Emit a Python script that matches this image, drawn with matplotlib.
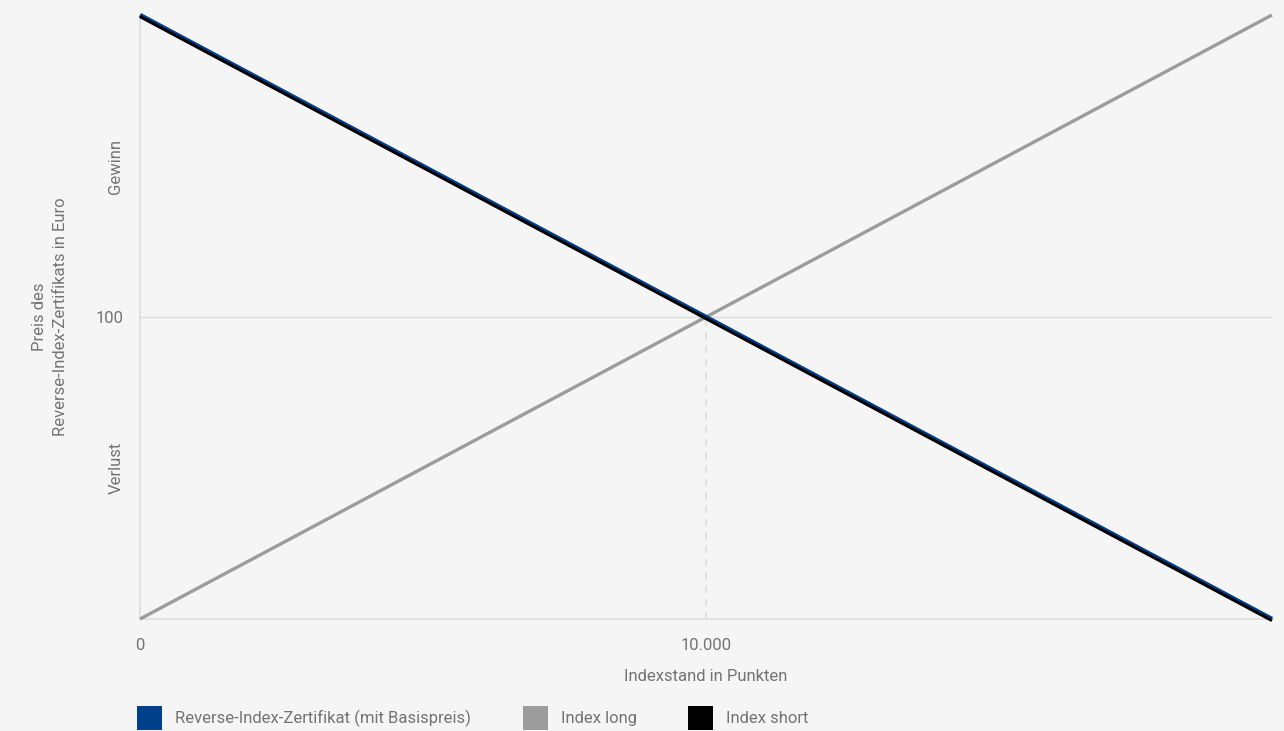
"""
Payoff diagram: Reverse-Index-Zertifikat vs. index long / short.
"""

import matplotlib
matplotlib.use("Agg")
import matplotlib.pyplot as plt
import matplotlib.transforms as mtransforms
from matplotlib.patches import Patch

plt.rcParams.update({
    "font.family": ["Roboto", "DejaVu Sans"],
    "font.size": 12,
})

BG_COLOR = "#f5f5f5"
TEXT_COLOR = "#737373"
GRID_COLOR = "#dcdcdc"
BLUE = "#003f8a"
GREY = "#9c9c9c"
BLACK = "#000000"

# ------------------------------------------------------------------
# Data
# ------------------------------------------------------------------
index_points = [0, 10000, 20000]
reverse_cert = [200, 100, 0]
index_long = [0, 100, 200]
index_short = [200, 100, 0]

strike = 10000
base_price = 100

x_ticks = [0, 10000]
x_tick_labels = ["0", "10.000"]
y_ticks = [50, 100, 150]
y_tick_labels = ["Verlust", "100", "Gewinn"]

legend_labels = ["Reverse-Index-Zertifikat (mit Basispreis)", "Index long", "Index short"]

# ------------------------------------------------------------------
# Figure
# ------------------------------------------------------------------
fig = plt.figure(figsize=(12.84, 7.31), dpi=100, facecolor=BG_COLOR)
ax = fig.add_axes([140 / 1284, 112 / 731, 1132 / 1284, 604 / 731])
ax.set_facecolor(BG_COLOR)

ax.set_xlim(0, 20000)
ax.set_ylim(0, 200)

# grid line at base price and dashed strike marker
ax.axhline(base_price, color=GRID_COLOR, lw=1, zorder=1)
ax.plot([strike, strike], [0, base_price], color=GRID_COLOR, lw=1.2,
        ls=(0, (4, 4)), zorder=1)

ax.plot(index_points, index_long, color=GREY, lw=2.4, zorder=3,
        solid_capstyle="butt", clip_on=False)
ax.plot(index_points, reverse_cert, color=BLUE, lw=3.2, zorder=4,
        solid_capstyle="butt", clip_on=False)
# black short line sits a hair below the blue one
shift = mtransforms.ScaledTranslation(0, -1.6 / 100, fig.dpi_scale_trans)
ax.plot(index_points, index_short, color=BLACK, lw=2.2, zorder=5,
        solid_capstyle="butt", clip_on=False, transform=ax.transData + shift)

for side in ["top", "right"]:
    ax.spines[side].set_visible(False)
for side in ["left", "bottom"]:
    ax.spines[side].set_color(GRID_COLOR)
    ax.spines[side].set_linewidth(1.2)

ax.set_xticks(x_ticks)
ax.set_xticklabels(x_tick_labels)
ax.set_yticks(y_ticks)
ax.set_yticklabels(y_tick_labels)
ax.tick_params(axis="both", length=0, labelsize=12, colors=TEXT_COLOR)
ax.tick_params(axis="x", pad=14)
ax.tick_params(axis="y", pad=12)
for lbl in ax.get_yticklabels():
    if lbl.get_text() != "100":
        lbl.set_rotation(90)
        lbl.set_va("center")

ax.set_xlabel("Indexstand in Punkten", color=TEXT_COLOR, fontsize=12, labelpad=11)
ax.set_ylabel("Preis des\nReverse-Index-Zertifikats in Euro", color=TEXT_COLOR,
              fontsize=12, labelpad=20, linespacing=1.5)

handles = [Patch(facecolor=c, edgecolor="none") for c in (BLUE, GREY, BLACK)]
fig.legend(handles, legend_labels, loc="lower left", ncol=3,
           bbox_to_anchor=(137 / 1284, 1 / 731), frameon=False,
           borderpad=0, borderaxespad=0,
           handlelength=1.5, handleheight=1.85, handletextpad=0.78,
           columnspacing=3.1, labelcolor=TEXT_COLOR, fontsize=12)

fig.savefig("out.png", dpi=100, facecolor=BG_COLOR)
